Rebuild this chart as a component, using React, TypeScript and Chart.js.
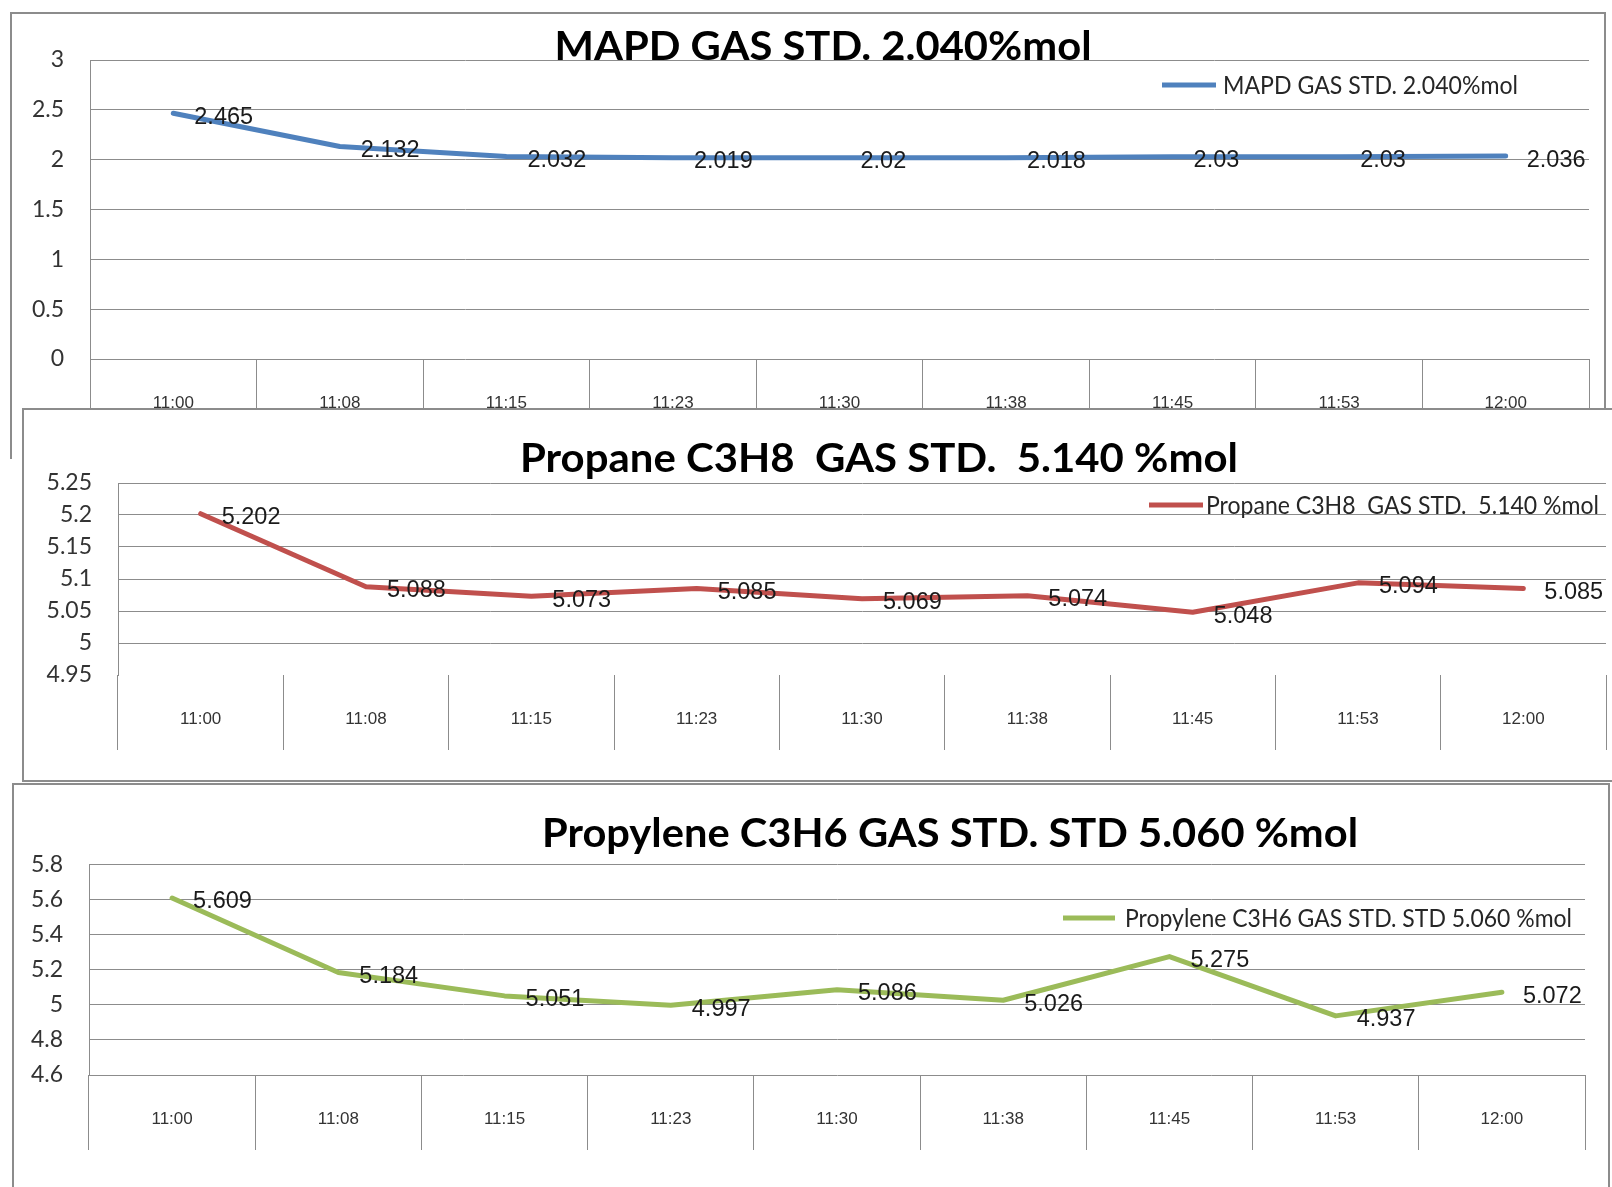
import React, { useEffect, useRef } from 'react';
import { Chart, registerables } from 'chart.js';

Chart.register(...registerables);

// ---------- data ----------
const TIMES = ['11:00', '11:08', '11:15', '11:23', '11:30', '11:38', '11:45', '11:53', '12:00'];

const MAPD_TITLE = 'MAPD GAS STD. 2.040%mol';
const MAPD_VALUES = [2.465, 2.132, 2.032, 2.019, 2.02, 2.018, 2.03, 2.03, 2.036];
const MAPD_Y_TICKS = [0, 0.5, 1, 1.5, 2, 2.5, 3];

const PROPANE_TITLE = 'Propane C3H8  GAS STD.  5.140 %mol';
const PROPANE_VALUES = [5.202, 5.088, 5.073, 5.085, 5.069, 5.074, 5.048, 5.094, 5.085];
const PROPANE_Y_TICKS = [4.95, 5, 5.05, 5.1, 5.15, 5.2, 5.25];

const PROPYLENE_TITLE = 'Propylene C3H6 GAS STD. STD 5.060 %mol';
const PROPYLENE_VALUES = [5.609, 5.184, 5.051, 4.997, 5.086, 5.026, 5.275, 4.937, 5.072];
const PROPYLENE_Y_TICKS = [4.6, 4.8, 5, 5.2, 5.4, 5.6, 5.8];

// ---------- styles / layout ----------
const GRID = '#8c8c8c';
const BORDER_W = 2;
const Y_AXIS_W = 74;
const X_BAND = 75;

type PanelCfg = {
  title: string;
  values: number[];
  yTicks: number[];
  color: string;
  box: { left: number; top: number; width: number; height: number; noBottom?: boolean };
  plot: { left: number; top: number; right: number; bottom: number };
  titlePos: { cx: number; baseline: number; width: number };
  legendPos: { x1: number; x2: number; y: number; textX: number; textW: number };
  hideMinGrid?: boolean;
};

const PANELS: PanelCfg[] = [
  {
    title: MAPD_TITLE,
    values: MAPD_VALUES,
    yTicks: MAPD_Y_TICKS,
    color: '#4F81BD',
    box: { left: 10, top: 12, width: 1596, height: 447, noBottom: true },
    plot: { left: 90, top: 60, right: 1589, bottom: 359 },
    titlePos: { cx: 823, baseline: 60, width: 537 },
    legendPos: { x1: 1162, x2: 1216, y: 85, textX: 1223, textW: 295 },
  },
  {
    title: PROPANE_TITLE,
    values: PROPANE_VALUES,
    yTicks: PROPANE_Y_TICKS,
    color: '#C0504D',
    box: { left: 22, top: 408, width: 1610, height: 374 },
    plot: { left: 118, top: 483, right: 1606, bottom: 675 },
    titlePos: { cx: 879, baseline: 472, width: 718 },
    legendPos: { x1: 1149, x2: 1203, y: 505, textX: 1206, textW: 393 },
    hideMinGrid: true,
  },
  {
    title: PROPYLENE_TITLE,
    values: PROPYLENE_VALUES,
    yTicks: PROPYLENE_Y_TICKS,
    color: '#9BBB59',
    box: { left: 12, top: 783, width: 1598, height: 420 },
    plot: { left: 89, top: 864.5, right: 1585, bottom: 1075 },
    titlePos: { cx: 950, baseline: 847, width: 816 },
    legendPos: { x1: 1063, x2: 1115, y: 918, textX: 1125, textW: 447 },
  },
];

function drawFitted(ctx: CanvasRenderingContext2D, text: string, x: number, y: number, width: number, align: CanvasTextAlign) {
  const w = ctx.measureText(text).width || 1;
  ctx.save();
  ctx.translate(x, y);
  ctx.scale(width / w, 1);
  ctx.textAlign = align;
  ctx.fillText(text, 0, 0);
  ctx.restore();
}

const decorPlugin = {
  id: 'panelDecor',
  afterDatasetsDraw(chart: any, _args: any, opts: any) {
    const ctx: CanvasRenderingContext2D = chart.ctx;
    const { ox, oy, title, titlePos, legendPos, color } = opts;
    ctx.save();
    // title
    ctx.font = 'bold 40px Lato';
    ctx.fillStyle = '#000';
    ctx.textBaseline = 'alphabetic';
    drawFitted(ctx, title, titlePos.cx - ox, titlePos.baseline - oy, titlePos.width, 'center');

    // legend
    ctx.strokeStyle = color;
    ctx.lineWidth = 5;
    ctx.lineCap = 'butt';
    ctx.beginPath();
    ctx.moveTo(legendPos.x1 - ox, legendPos.y - oy);
    ctx.lineTo(legendPos.x2 - ox, legendPos.y - oy);
    ctx.stroke();
    ctx.font = '25px Lato';
    ctx.fillStyle = '#262626';
    ctx.textBaseline = 'middle';
    drawFitted(ctx, title, legendPos.textX - ox, legendPos.y - oy + 1, legendPos.textW, 'left');

    // data labels
    const meta = chart.getDatasetMeta(0);
    const data = chart.data.datasets[0].data as number[];
    ctx.font = '23.5px "Liberation Sans", Arial, sans-serif';
    ctx.fillStyle = '#1a1a1a';
    ctx.textAlign = 'left';
    ctx.textBaseline = 'middle';
    meta.data.forEach((pt: any, i: number) => {
      ctx.fillText(String(data[i]), pt.x + 21, pt.y + 4);
    });
    ctx.restore();
  },
};

function Panel({ cfg }: { cfg: PanelCfg }) {
  const ref = useRef<HTMLCanvasElement | null>(null);
  const { box, plot } = cfg;
  const ox = box.left + BORDER_W;
  const oy = box.top + BORDER_W;
  const cw = box.width - 2 * BORDER_W;
  const ch = box.height - (box.noBottom ? BORDER_W : 2 * BORDER_W);

  useEffect(() => {
    if (!ref.current) return;
    const padding = {
      left: plot.left - ox - Y_AXIS_W,
      top: plot.top - oy,
      right: ox + cw - plot.right,
      bottom: oy + ch - plot.bottom - X_BAND,
    };
    const yMin = Math.min(...cfg.yTicks);
    const yMax = Math.max(...cfg.yTicks);
    const chart = new Chart(ref.current, {
      type: 'line',
      data: {
        labels: TIMES,
        datasets: [
          {
            label: cfg.title,
            data: cfg.values,
            borderColor: cfg.color,
            backgroundColor: cfg.color,
            borderWidth: 5,
            pointRadius: 0,
            tension: 0,
            fill: false,
            borderCapStyle: 'round',
            borderJoinStyle: 'round',
          },
        ],
      },
      options: {
        animation: false,
        responsive: false,
        events: [],
        layout: { padding },
        plugins: {
          legend: { display: false },
          title: { display: false },
          tooltip: { enabled: false },
          panelDecor: {
            ox,
            oy,
            title: cfg.title,
            titlePos: cfg.titlePos,
            legendPos: cfg.legendPos,
            color: cfg.color,
          },
        } as any,
        scales: {
          x: {
            type: 'category',
            offset: true,
            grid: {
              offset: true,
              drawOnChartArea: false,
              drawTicks: true,
              tickLength: X_BAND,
              color: GRID,
              lineWidth: 1,
            },
            border: { display: false },
            ticks: {
              padding: -41,
              autoSkip: false,
              maxRotation: 0,
              color: '#333',
              font: { family: '"Liberation Sans", Arial, sans-serif', size: 17 },
            },
            afterFit: (s: any) => {
              s.height = X_BAND;
            },
          },
          y: {
            type: 'linear',
            min: yMin,
            max: yMax,
            afterBuildTicks: (s: any) => {
              s.ticks = cfg.yTicks.map((v) => ({ value: v }));
            },
            grid: {
              drawTicks: false,
              lineWidth: 1,
              color: (c: any) => (cfg.hideMinGrid && c.tick && c.tick.value === yMin ? 'rgba(0,0,0,0)' : GRID),
            },
            border: { display: true, color: GRID, width: 1 },
            ticks: {
              padding: 26,
              color: '#333',
              font: { family: 'Lato', size: 23 },
              callback: (v: any) => String(v),
            },
            afterFit: (s: any) => {
              s.width = Y_AXIS_W;
            },
          },
        },
      } as any,
      plugins: [decorPlugin],
    });
    return () => chart.destroy();
  }, []);

  return (
    <div
      style={{
        position: 'absolute',
        left: box.left,
        top: box.top,
        width: box.width,
        height: box.height,
        boxSizing: 'border-box',
        border: `${BORDER_W}px solid ${GRID}`,
        borderBottom: box.noBottom ? 'none' : `${BORDER_W}px solid ${GRID}`,
        background: '#fff',
      }}
    >
      <canvas ref={ref} width={cw} height={ch} style={{ display: 'block', width: cw, height: ch }} />
    </div>
  );
}

export default function App() {
  return (
    <div
      style={{
        position: 'absolute',
        left: 0,
        top: 0,
        width: 1612,
        height: 1187,
        overflow: 'hidden',
        background: '#fff',
      }}
    >
      {PANELS.map((p, i) => (
        <Panel key={i} cfg={p} />
      ))}
    </div>
  );
}
